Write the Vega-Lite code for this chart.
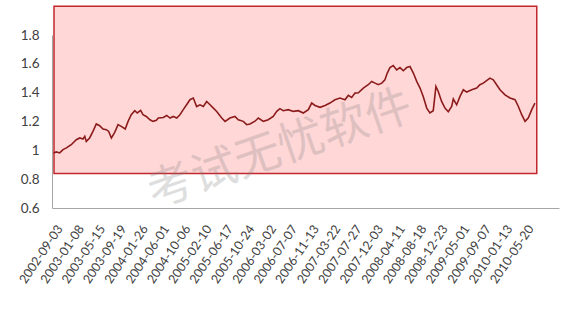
{
  "$schema": "https://vega.github.io/schema/vega-lite/v6.json",
  "width": 507,
  "height": 173,
  "autosize": "none",
  "padding": {"left": 52, "top": 35, "right": 15, "bottom": 102},
  "background": "white",
  "config": {
    "view": {"stroke": null},
    "font": "Lato",
    "axis": {
      "grid": false,
      "ticks": false,
      "domainColor": "#a6a6a6",
      "domainWidth": 1,
      "labelColor": "#404040",
      "labelFont": "Lato",
      "title": null
    }
  },
  "encoding": {
    "x": {
      "field": "date",
      "type": "temporal",
      "scale": {
        "type": "utc",
        "domain": [
          {"year": 2002, "month": 8, "date": 25, "utc": true},
          {"year": 2010, "month": 12, "date": 13, "utc": true}
        ]
      },
      "axis": {
        "values": [
          {"year": 2002, "month": 9, "date": 3, "utc": true},
          {"year": 2003, "month": 1, "date": 8, "utc": true},
          {"year": 2003, "month": 5, "date": 15, "utc": true},
          {"year": 2003, "month": 9, "date": 19, "utc": true},
          {"year": 2004, "month": 1, "date": 26, "utc": true},
          {"year": 2004, "month": 6, "date": 1, "utc": true},
          {"year": 2004, "month": 10, "date": 6, "utc": true},
          {"year": 2005, "month": 2, "date": 10, "utc": true},
          {"year": 2005, "month": 6, "date": 17, "utc": true},
          {"year": 2005, "month": 10, "date": 24, "utc": true},
          {"year": 2006, "month": 3, "date": 2, "utc": true},
          {"year": 2006, "month": 7, "date": 7, "utc": true},
          {"year": 2006, "month": 11, "date": 13, "utc": true},
          {"year": 2007, "month": 3, "date": 22, "utc": true},
          {"year": 2007, "month": 7, "date": 27, "utc": true},
          {"year": 2007, "month": 12, "date": 3, "utc": true},
          {"year": 2008, "month": 4, "date": 11, "utc": true},
          {"year": 2008, "month": 8, "date": 18, "utc": true},
          {"year": 2008, "month": 12, "date": 23, "utc": true},
          {"year": 2009, "month": 5, "date": 1, "utc": true},
          {"year": 2009, "month": 9, "date": 7, "utc": true},
          {"year": 2010, "month": 1, "date": 13, "utc": true},
          {"year": 2010, "month": 5, "date": 20, "utc": true}
        ],
        "labelExpr": "utcFormat(datum.value, '%Y-%m-%d')",
        "labelAngle": -56,
        "labelAlign": "right",
        "labelBaseline": "middle",
        "labelPadding": 18,
        "labelOffset": 6,
        "labelOverlap": false,
        "labelFontSize": 12.5
      }
    },
    "y": {
      "field": "value",
      "type": "quantitative",
      "scale": {"domain": [0.6, 1.8], "nice": false, "zero": false},
      "axis": {
        "values": [0.6, 0.8, 1, 1.2, 1.4, 1.6, 1.8],
        "format": ".1~f",
        "labelFontSize": 13.5,
        "labelPadding": 13
      }
    }
  },
  "layer": [
    {
      "data": {"values": [{"date": "2002-09-06", "date2": "2010-08-02", "value": 0.84, "value2": 2.0}]},
      "mark": {"type": "rect", "fill": "#ffd7d7", "stroke": "#c0282d", "strokeWidth": 1.5},
      "encoding": {
        "x2": {"field": "date2"},
        "y2": {"field": "value2"}
      }
    },
    {
      "data": {"values": [
        {"date": "2002-09-03", "value": 0.982},
        {"date": "2002-09-20", "value": 0.989},
        {"date": "2002-10-10", "value": 0.982},
        {"date": "2002-10-30", "value": 1.005},
        {"date": "2002-11-19", "value": 1.017},
        {"date": "2002-12-18", "value": 1.039},
        {"date": "2003-01-17", "value": 1.074},
        {"date": "2003-02-07", "value": 1.086},
        {"date": "2003-02-26", "value": 1.079},
        {"date": "2003-03-09", "value": 1.097},
        {"date": "2003-03-18", "value": 1.062},
        {"date": "2003-04-07", "value": 1.086},
        {"date": "2003-04-27", "value": 1.131},
        {"date": "2003-05-17", "value": 1.183},
        {"date": "2003-06-06", "value": 1.171},
        {"date": "2003-06-26", "value": 1.148},
        {"date": "2003-07-16", "value": 1.143},
        {"date": "2003-07-30", "value": 1.131},
        {"date": "2003-08-15", "value": 1.086},
        {"date": "2003-09-04", "value": 1.125},
        {"date": "2003-09-24", "value": 1.178},
        {"date": "2003-10-13", "value": 1.166},
        {"date": "2003-11-06", "value": 1.148},
        {"date": "2003-11-23", "value": 1.201},
        {"date": "2003-12-12", "value": 1.247},
        {"date": "2004-01-02", "value": 1.275},
        {"date": "2004-01-17", "value": 1.259},
        {"date": "2004-02-06", "value": 1.277},
        {"date": "2004-02-20", "value": 1.247},
        {"date": "2004-03-11", "value": 1.235},
        {"date": "2004-04-02", "value": 1.212},
        {"date": "2004-04-20", "value": 1.201},
        {"date": "2004-05-10", "value": 1.208},
        {"date": "2004-05-22", "value": 1.224},
        {"date": "2004-06-21", "value": 1.228},
        {"date": "2004-07-11", "value": 1.242},
        {"date": "2004-07-31", "value": 1.224},
        {"date": "2004-08-19", "value": 1.235},
        {"date": "2004-09-09", "value": 1.224},
        {"date": "2004-09-28", "value": 1.247},
        {"date": "2004-10-18", "value": 1.282},
        {"date": "2004-11-07", "value": 1.316},
        {"date": "2004-11-27", "value": 1.351},
        {"date": "2004-12-17", "value": 1.363},
        {"date": "2005-01-06", "value": 1.304},
        {"date": "2005-01-26", "value": 1.316},
        {"date": "2005-02-15", "value": 1.304},
        {"date": "2005-03-07", "value": 1.339},
        {"date": "2005-03-27", "value": 1.316},
        {"date": "2005-04-16", "value": 1.293},
        {"date": "2005-05-06", "value": 1.27},
        {"date": "2005-06-05", "value": 1.224},
        {"date": "2005-06-25", "value": 1.201},
        {"date": "2005-07-24", "value": 1.224},
        {"date": "2005-08-23", "value": 1.235},
        {"date": "2005-09-12", "value": 1.212},
        {"date": "2005-10-12", "value": 1.201},
        {"date": "2005-11-01", "value": 1.178},
        {"date": "2005-11-21", "value": 1.183},
        {"date": "2005-12-21", "value": 1.202},
        {"date": "2006-01-10", "value": 1.224},
        {"date": "2006-02-09", "value": 1.201},
        {"date": "2006-03-10", "value": 1.212},
        {"date": "2006-04-09", "value": 1.235},
        {"date": "2006-04-30", "value": 1.27},
        {"date": "2006-05-19", "value": 1.289},
        {"date": "2006-06-08", "value": 1.275},
        {"date": "2006-07-08", "value": 1.282},
        {"date": "2006-08-07", "value": 1.27},
        {"date": "2006-09-06", "value": 1.275},
        {"date": "2006-10-06", "value": 1.259},
        {"date": "2006-11-05", "value": 1.282},
        {"date": "2006-11-25", "value": 1.328},
        {"date": "2006-12-15", "value": 1.311},
        {"date": "2007-01-14", "value": 1.298},
        {"date": "2007-02-13", "value": 1.311},
        {"date": "2007-03-14", "value": 1.328},
        {"date": "2007-04-13", "value": 1.351},
        {"date": "2007-05-13", "value": 1.363},
        {"date": "2007-06-12", "value": 1.351},
        {"date": "2007-07-02", "value": 1.381},
        {"date": "2007-07-22", "value": 1.367},
        {"date": "2007-08-11", "value": 1.397},
        {"date": "2007-08-31", "value": 1.399},
        {"date": "2007-09-30", "value": 1.432},
        {"date": "2007-10-29", "value": 1.455},
        {"date": "2007-11-19", "value": 1.478},
        {"date": "2007-12-09", "value": 1.466},
        {"date": "2007-12-28", "value": 1.455},
        {"date": "2008-01-18", "value": 1.466},
        {"date": "2008-02-06", "value": 1.489},
        {"date": "2008-02-20", "value": 1.536},
        {"date": "2008-03-07", "value": 1.574},
        {"date": "2008-03-27", "value": 1.588},
        {"date": "2008-04-16", "value": 1.558},
        {"date": "2008-05-06", "value": 1.574},
        {"date": "2008-05-26", "value": 1.552},
        {"date": "2008-06-15", "value": 1.574},
        {"date": "2008-07-05", "value": 1.581},
        {"date": "2008-07-25", "value": 1.536},
        {"date": "2008-08-14", "value": 1.478},
        {"date": "2008-09-03", "value": 1.432},
        {"date": "2008-09-22", "value": 1.374},
        {"date": "2008-10-13", "value": 1.293},
        {"date": "2008-11-01", "value": 1.259},
        {"date": "2008-11-21", "value": 1.275},
        {"date": "2008-12-07", "value": 1.443},
        {"date": "2008-12-21", "value": 1.408},
        {"date": "2009-01-10", "value": 1.339},
        {"date": "2009-01-30", "value": 1.293},
        {"date": "2009-02-19", "value": 1.268},
        {"date": "2009-03-11", "value": 1.304},
        {"date": "2009-03-21", "value": 1.356},
        {"date": "2009-04-10", "value": 1.316},
        {"date": "2009-04-30", "value": 1.374},
        {"date": "2009-05-20", "value": 1.42},
        {"date": "2009-06-09", "value": 1.404},
        {"date": "2009-07-09", "value": 1.42},
        {"date": "2009-08-08", "value": 1.432},
        {"date": "2009-08-27", "value": 1.455},
        {"date": "2009-09-16", "value": 1.466},
        {"date": "2009-10-06", "value": 1.484},
        {"date": "2009-10-26", "value": 1.501},
        {"date": "2009-11-15", "value": 1.489},
        {"date": "2009-12-05", "value": 1.455},
        {"date": "2009-12-25", "value": 1.42},
        {"date": "2010-01-24", "value": 1.385},
        {"date": "2010-02-23", "value": 1.363},
        {"date": "2010-03-25", "value": 1.351},
        {"date": "2010-04-14", "value": 1.304},
        {"date": "2010-05-04", "value": 1.247},
        {"date": "2010-05-24", "value": 1.201},
        {"date": "2010-06-12", "value": 1.224},
        {"date": "2010-07-03", "value": 1.282},
        {"date": "2010-07-22", "value": 1.328}
      ]},
      "mark": {"type": "line", "color": "#8c1c1c", "strokeWidth": 1.6}
    },
    {
      "data": {"values": [{"date": "2006-05-19", "value": 1.005, "text": "考试无忧软件"}]},
      "mark": {
        "type": "text",
        "angle": -19,
        "fontSize": 46,
        "font": "Noto Sans CJK SC",
        "fill": "#7f7f7f",
        "opacity": 0.25,
        "align": "center",
        "baseline": "middle"
      },
      "encoding": {"text": {"field": "text"}}
    }
  ]
}
